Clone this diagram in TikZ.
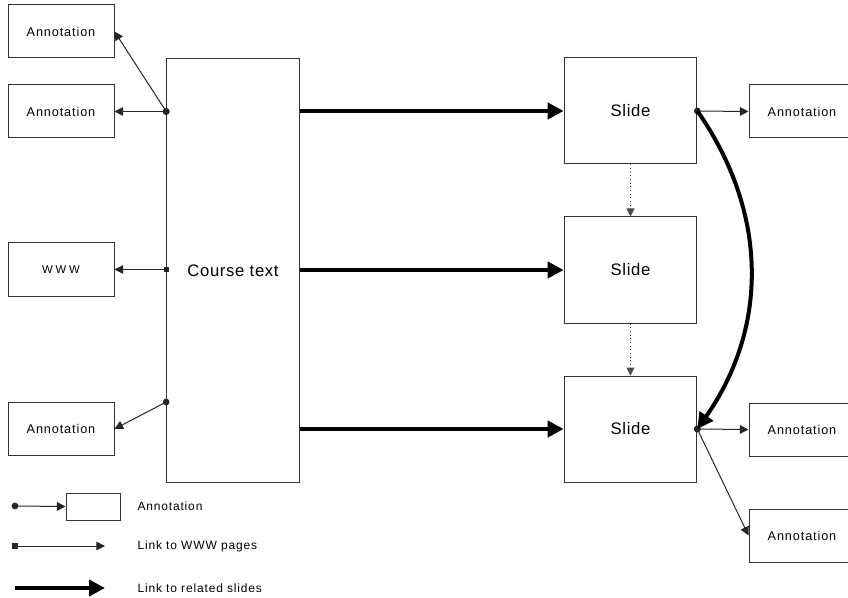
\documentclass[tikz,border=0pt]{standalone}
\usepackage{fontspec}
\setmainfont{Liberation Sans}
\newfontfamily\annfont[LetterSpace=7]{Liberation Sans}
\newfontfamily\wwwfont[LetterSpace=25]{Liberation Sans}
\newfontfamily\slidefont[LetterSpace=4]{Liberation Sans}
\usetikzlibrary{arrows.meta,positioning}

\begin{document}
\begin{tikzpicture}[
    x=0.75pt, y=-0.75pt,
    line width=0.75pt,
    annot/.style={
        rectangle,
        draw=black!80,
        fill=white,
        minimum width=79.5pt,
        minimum height=39.75pt,
        inner sep=0pt,
        font=\annfont\fontsize{9.5}{11}\selectfont
    },
    bigbox/.style={
        rectangle,
        draw=black!80,
        fill=white,
        minimum width=99.5pt,
        minimum height=#1,
        inner sep=0pt,
        font=\slidefont\fontsize{12.5}{15}\selectfont
    },
    legtext/.style={
        anchor=west,
        inner sep=0pt,
        font=\annfont\fontsize{9}{11}\selectfont
    },
    thinlink/.style={draw=black!85, -{Triangle[length=6.5pt,width=6.5pt]}},
    annlink/.style={thinlink, {Circle[length=5pt]}-{Triangle[length=6.5pt,width=6.5pt]}, shorten <=-2.5pt},
    wwwlink/.style={thinlink, {Square[length=4pt]}-{Triangle[length=6.5pt,width=6.5pt]}, shorten <=-2pt},
    slidelink/.style={line width=3pt, -{Triangle[length=12pt,width=12pt]}},
    seqlink/.style={draw=black!70, dotted, -{Triangle[length=6pt,width=6pt]}},
]

\useasboundingbox (0,0) rectangle (848,598);

\node[bigbox=317.25pt] (course) at (233,270.5) {Course text};

\node[annot] (ann1) at (61,31.5)  {Annotation};
\node[annot] (ann2) at (61,111.5) {Annotation};
\node[annot, font=\wwwfont\fontsize{8.5}{10}\selectfont] (www) at (61,269.5) {WWW};
\node[annot] (ann3) at (61,429)   {Annotation};

\node[bigbox=79.5pt] (slide1) at (630.5,111) {Slide};
\node[bigbox=79.5pt] (slide2) at (630.5,270) {Slide};
\node[bigbox=79.5pt] (slide3) at (630.5,429) {Slide};

\node[annot] (annr1) at (802,111.5) {Annotation};
\node[annot] (annr2) at (802,429.5) {Annotation};
\node[annot] (annr3) at (802,535.5) {Annotation};

\draw[annlink] (course.west |- ann2.east) -- (ann1.east);
\draw[annlink] (course.west |- ann2.east) -- (ann2.east);
\draw[wwwlink] (course.west |- www.east) -- (www.east);
\draw[annlink] (course.west |- ann3.north) -- (ann3.east);

\draw[slidelink] (course.east |- slide1.west) -- (slide1.west);
\draw[slidelink] (course.east |- slide2.west) -- (slide2.west);
\draw[slidelink] (course.east |- slide3.west) -- (slide3.west);

\draw[seqlink] (slide1.south) -- (slide2.north);
\draw[seqlink] (slide2.south) -- (slide3.north);

\draw[annlink] (slide1.east) -- (annr1.west);
\draw[annlink] (slide3.east) -- (annr2.west);
\draw[annlink] (slide3.east) -- (annr3.west);
\draw[slidelink] (slide1.east) to[bend left=35] (slide3.east);

\node[annot, minimum width=40.5pt, minimum height=20.25pt] (legbox) at (93,506.5) {};
\coordinate (legdot) at (15,506);
\node[legtext] (legann) at (137,506) {Annotation};
\draw[annlink] (legdot) -- (legbox.west);

\coordinate (legwww1) at (15,546);
\coordinate (legwww2) at (105,546);
\node[legtext] (legwww) at (137,546) {Link to WWW pages};
\draw[wwwlink] (legwww1) -- (legwww2);

\coordinate (legslide1) at (15,588);
\coordinate (legslide2) at (105,588);
\node[legtext] (legslide) at (137,588) {Link to related slides};
\draw[slidelink] (legslide1) -- (legslide2);

\end{tikzpicture}
\end{document}
